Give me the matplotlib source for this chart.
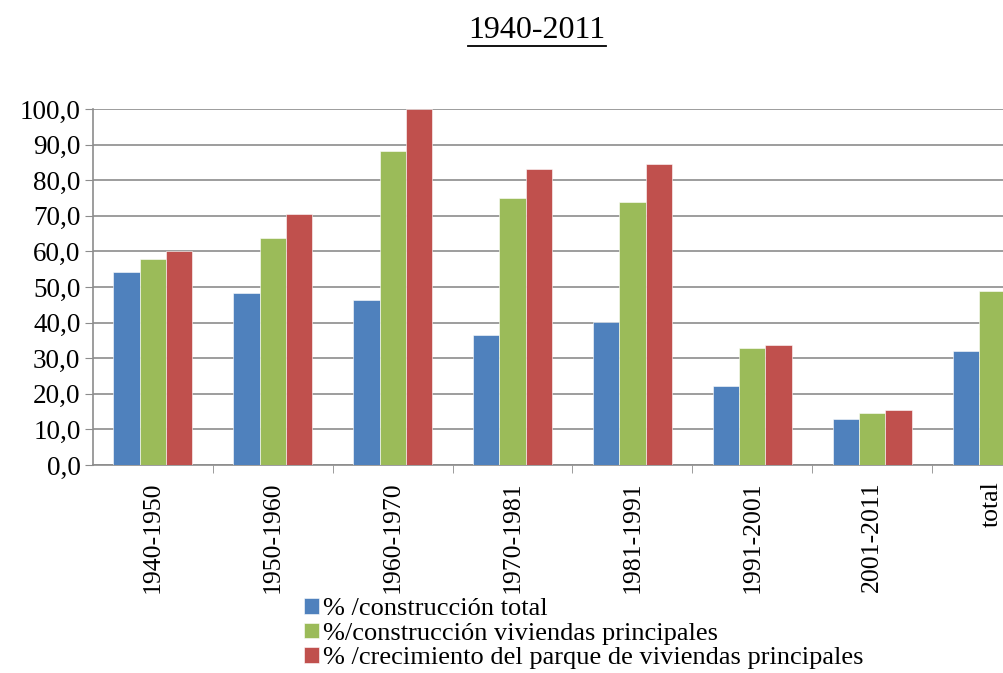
import numpy as np
import matplotlib
matplotlib.use("Agg")
import matplotlib.pyplot as plt
from matplotlib.ticker import FuncFormatter, MultipleLocator

plt.rcParams['font.family'] = ['Liberation Serif', 'DejaVu Serif']

periodos = ["1940-1950", "1950-1960", "1960-1970", "1970-1981",
            "1981-1991", "1991-2001", "2001-2011", "total"]
construccion_total = [54.2, 48.2, 46.4, 36.6, 40.1, 22.2, 12.9, 31.9]
construccion_viviendas = [57.8, 63.8, 88.2, 75.0, 74.0, 32.8, 14.7, 49.0]
crecimiento_parque = [60.0, 70.4, 100.0, 83.1, 84.6, 33.8, 15.4, 55.0]

series = [
    ("% /construcción total", construccion_total, "#4F81BD"),
    ("%/construcción viviendas principales", construccion_viviendas, "#9BBB59"),
    ("% /crecimiento del parque de viviendas principales", crecimiento_parque, "#C0504D"),
]

fig = plt.figure(figsize=(10.04, 6.73), dpi=100)
# right edge of the plot runs past the picture, like the cropped original
ax = fig.add_axes([93 / 1004, 1 - 465 / 673, 959 / 1004, 356 / 673])

x = np.arange(len(periodos))
w = 0.22
for i, (name, vals, col) in enumerate(series):
    ax.bar(x + (i - 1) * w, vals, w, color=col, label=name,
           edgecolor="white", linewidth=0.4, zorder=3)

ax.set_xlim(-0.5, len(periodos) - 0.5)
ax.set_ylim(0, 100)
ax.yaxis.set_major_locator(MultipleLocator(10))
ax.yaxis.set_major_formatter(FuncFormatter(lambda v, p: f"{v:.1f}".replace(".", ",")))
ax.grid(axis="y", color="#8c8c8c", linewidth=1.2, zorder=0)

ax.set_xticks(x)
ax.set_xticklabels(periodos, rotation=90, fontsize=18.5)
ax.set_xticks(np.arange(len(periodos)) + 0.5, minor=True)
ax.tick_params(axis="x", which="major", length=0, pad=12)
ax.tick_params(axis="x", which="minor", length=6, color="#8c8c8c")
ax.tick_params(axis="y", length=6, color="#8c8c8c", labelsize=19.5, pad=3)

for s in ["top", "right"]:
    ax.spines[s].set_visible(False)
for s in ["left", "bottom"]:
    ax.spines[s].set_color("#8c8c8c")
    ax.spines[s].set_linewidth(1.2)

fig.text(537 / 1004, 1 - 31 / 673, "1940-2011", ha="center", va="center",
         fontsize=23)
fig.add_artist(plt.Line2D([468 / 1004, 606 / 1004], [1 - 46 / 673, 1 - 46 / 673],
                          color="black", linewidth=1.3))

leg = fig.legend(loc="upper left", bbox_to_anchor=(291 / 1004, 1 - 585 / 673),
                 frameon=False, fontsize=19, handlelength=0.55, handleheight=0.55,
                 handletextpad=0.15, labelspacing=0.08, borderpad=0)

fig.savefig("out.png", dpi=100)
